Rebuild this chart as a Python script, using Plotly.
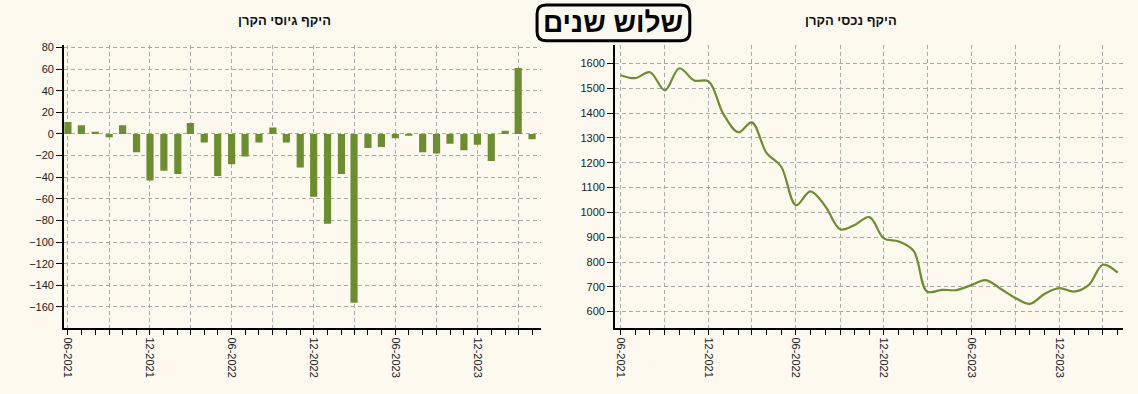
import plotly.graph_objects as go
import pandas as pd

# ---- data ----
months = pd.date_range("2021-06-01", "2024-04-01", freq="MS").strftime("%Y-%m-%d").tolist()

flows = [11, 8, 2, -3, 8, -17, -43, -34, -37, 10, -8, -39, -28, -21, -8, 6, -8, -31,
         -58, -83, -37, -156, -13, -12, -4, -1, -17, -18, -9, -15, -10, -25, 3, 61, -5]

aum = [1553, 1541, 1565, 1492, 1581, 1532, 1528, 1396, 1323, 1363, 1239, 1185, 1029,
       1085, 1025, 932, 949, 981, 895, 883, 845, 681, 688, 687, 707, 727, 692, 655,
       631, 672, 695, 681, 708, 789, 757]

grid_months = months[::3]
tick_labels = [pd.Timestamp(m).strftime("%m-%Y") if pd.Timestamp(m).month in (6, 12) else ""
               for m in grid_months]

title_main = "שלוש שנים"
title_left = "היקף גיוסי הקרן"
title_right = "היקף נכסי הקרן"

BG = "#FDF9EE"
GREEN = "#6B8E2F"
W, H = 1138, 394

fig = go.Figure()
fig.add_trace(go.Bar(x=months, y=flows, marker_color=GREEN, marker_line_width=0,
                     width=16 * 24 * 3600 * 1000, xaxis="x", yaxis="y",
                     showlegend=False))
fig.add_trace(go.Scatter(x=months, y=aum, mode="lines",
                         line=dict(color=GREEN, width=2.2, shape="spline", smoothing=1.0),
                         xaxis="x2", yaxis="y2", showlegend=False))

ydom = [67 / H, 352 / H]
font_ticks = dict(family="Arial", size=11, color="#222")
GRID_DASH = "4px,3px"

def xax(dom, rng, anchor):
    return dict(domain=dom, range=rng, type="date", anchor=anchor,
                tickmode="array", tickvals=grid_months, ticktext=tick_labels,
                tickangle=90, ticks="outside", ticklen=6, tickcolor="black",
                showline=True, linecolor="black", linewidth=1.5,
                showgrid=True, gridcolor="#AAAAAA", griddash=GRID_DASH, gridwidth=1,
                zeroline=False, tickfont=font_ticks,
                minor=dict(dtick="M1", tick0="2021-06-01", ticks="outside", ticklen=6,
                           tickcolor="black", showgrid=False))

def yax(rng, dtick, anchor):
    return dict(domain=ydom, range=rng, dtick=dtick, anchor=anchor,
                ticks="outside", ticklen=6, tickcolor="black",
                showline=True, linecolor="black", linewidth=1.5,
                showgrid=True, gridcolor="#AAAAAA", griddash=GRID_DASH, gridwidth=1,
                zeroline=False, tickfont=font_ticks)

fig.update_layout(
    width=W, height=H,
    margin=dict(l=0, r=0, t=0, b=0),
    paper_bgcolor=BG, plot_bgcolor=BG,
    xaxis=xax([62 / W, 540 / W], ["2021-05-23", "2024-04-21"], "y"),
    yaxis=yax([-179, 82.5], 20, "x"),
    xaxis2=xax([614 / W, 1123 / W], ["2021-05-20", "2024-04-12"], "y2"),
    yaxis2=yax([536, 1676], 100, "x2"),
)

# rounded box for main title
x0, x1 = 536 / W, 689 / W
y0, y1 = 1 - 38 / H, 1 - 2 / H
rx, ry = 9 / W, 9 / H
path = (f"M {x0+rx},{y1} L {x1-rx},{y1} Q {x1},{y1} {x1},{y1-ry} "
        f"L {x1},{y0+ry} Q {x1},{y0} {x1-rx},{y0} L {x0+rx},{y0} "
        f"Q {x0},{y0} {x0},{y0+ry} L {x0},{y1-ry} Q {x0},{y1} {x0+rx},{y1} Z")
fig.add_shape(type="path", path=path, xref="paper", yref="paper",
              line=dict(color="black", width=3), fillcolor=BG, layer="above")

fig.add_annotation(text=f"<b>{title_main}</b>", x=612.5 / W, y=1 - 20 / H,
                   xref="paper", yref="paper", showarrow=False,
                   font=dict(family="Arial", size=28, color="black"),
                   xanchor="center", yanchor="middle")
fig.add_annotation(text=f"<b>{title_left}</b>", x=283 / W, y=1 - 18 / H,
                   xref="paper", yref="paper", showarrow=False,
                   font=dict(family="Arial", size=13, color="#111"),
                   xanchor="center", yanchor="middle")
fig.add_annotation(text=f"<b>{title_right}</b>", x=850 / W, y=1 - 18 / H,
                   xref="paper", yref="paper", showarrow=False,
                   font=dict(family="Arial", size=13, color="#111"),
                   xanchor="center", yanchor="middle")

fig.write_html("out.html",
               config={"displayModeBar": False},
               post_script="document.body.style.margin='0';"
                           "document.body.style.overflow='hidden';"
                           "document.body.style.background='" + BG + "';")
